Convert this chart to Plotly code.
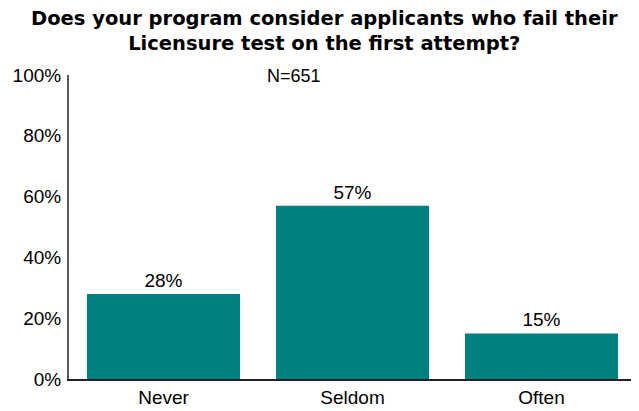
import plotly.graph_objects as go

categories = ["Never", "Seldom", "Often"]
values = [28, 57, 15]
tick_vals = [0, 20, 40, 60, 80, 100]
tick_text = ["0%", "20%", "40%", "60%", "80%", "100%"]
title_lines = ["Does your program consider applicants who fail their",
               "Licensure test on the first attempt?"]
n_label = "N=651"

# page body has an 8px margin; size the figure to fill the rest
W, H = 631, 403
L, R, T, B = 61, 3, 67, 30
plot_h = H - T - B
plot_w = W - L - R

fig = go.Figure(go.Bar(
    x=categories, y=values,
    marker=dict(color="#008080", line=dict(width=0)),
    text=[f"{v}%" for v in values], textposition="outside",
    textfont=dict(size=19, color="#000"),
    cliponaxis=False,
))

title_x = (316.5 - L) / plot_w
annotations = [
    dict(text="<b>" + "<br>".join(title_lines) + "</b>", x=title_x,
         y=1 + 44.5 / plot_h,
         xref="paper", yref="paper", xanchor="center", yanchor="middle",
         showarrow=False, borderpad=0,
         font=dict(family="DejaVu Sans", size=19.5, color="#000")),
    dict(text=n_label, x=(286 - L) / plot_w, y=1 - 1.5 / plot_h,
         xref="paper", yref="paper", xanchor="center", yanchor="middle",
         showarrow=False, font=dict(size=18, color="#000")),
]

fig.update_layout(
    width=W, height=H,
    margin=dict(l=L, r=R, t=T, b=B, pad=0),
    paper_bgcolor="white", plot_bgcolor="white",
    font=dict(family="Liberation Sans, Arial, sans-serif", size=19, color="#000"),
    bargap=0.19,
    showlegend=False,
    xaxis=dict(showline=True, linecolor="#222", linewidth=1.5, ticks="",
               showgrid=False, tickfont=dict(size=19)),
    yaxis=dict(range=[0, 100], tickvals=tick_vals, ticktext=tick_text,
               showline=True, linecolor="#595959", linewidth=2, ticks="",
               showgrid=False, zeroline=False, tickfont=dict(size=19),
               ticklabelstandoff=2),
    annotations=annotations,
)

fig.write_html("out.html")
